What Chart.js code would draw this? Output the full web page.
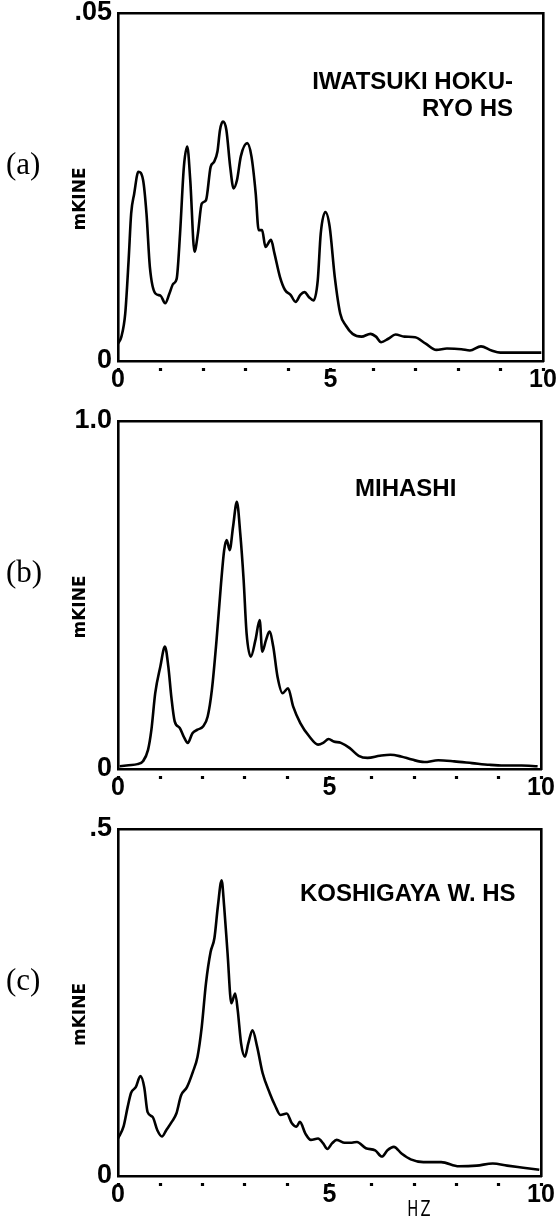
<!DOCTYPE html>
<html lang="en">
<head>
<meta charset="UTF-8">
<title>Fourier spectra</title>
<script src="https://cdn.jsdelivr.net/npm/chart.js@4.4.0/dist/chart.umd.min.js"></script>
<style>
  body { margin: 0; background: #fff; }
  canvas { position: absolute; left: 0; }
</style>
</head>
<body>
<canvas id="pa" width="557" height="408" style="top:0px"></canvas>
<canvas id="pb" width="557" height="408" style="top:408px"></canvas>
<canvas id="pc" width="557" height="409" style="top:816px"></canvas>
<script>
// frequency (Hz) and amplitude (kine)
const freqA = [0, 0.08, 0.17, 0.25, 0.31, 0.38, 0.48, 0.59, 0.67, 0.75, 0.88, 1.0, 1.11, 1.21, 1.3, 1.38, 1.46, 1.55, 1.63, 1.7, 1.8, 1.88, 1.97, 2.07, 2.18, 2.26, 2.34, 2.4, 2.47, 2.55, 2.64, 2.72, 2.8, 2.89, 3.04, 3.14, 3.24, 3.31, 3.39, 3.47, 3.6, 3.68, 3.81, 3.93, 4.06, 4.18, 4.29, 4.39, 4.49, 4.6, 4.7, 4.77, 4.88, 4.98, 5.1, 5.23, 5.36, 5.52, 5.73, 5.94, 6.07, 6.19, 6.36, 6.53, 6.74, 6.99, 7.24, 7.49, 7.74, 8.08, 8.28, 8.54, 8.79, 9.0, 9.41, 9.96];
const ampA = [0.0025, 0.0035, 0.0068, 0.0145, 0.0212, 0.024, 0.0272, 0.026, 0.0212, 0.0135, 0.0097, 0.0094, 0.0083, 0.0097, 0.0111, 0.0118, 0.0183, 0.0279, 0.0308, 0.026, 0.0157, 0.0183, 0.0226, 0.0231, 0.0279, 0.0286, 0.0301, 0.0332, 0.0344, 0.0332, 0.0279, 0.0248, 0.026, 0.0294, 0.0313, 0.0294, 0.0241, 0.0188, 0.0188, 0.0164, 0.0174, 0.0155, 0.0121, 0.0102, 0.0095, 0.0085, 0.0095, 0.0099, 0.0092, 0.0087, 0.0116, 0.0183, 0.0214, 0.0193, 0.0121, 0.0068, 0.0051, 0.0039, 0.0035, 0.0039, 0.0035, 0.0027, 0.0032, 0.0038, 0.0035, 0.0034, 0.0025, 0.0016, 0.0018, 0.0017, 0.0015, 0.0021, 0.0015, 0.0012, 0.0012, 0.0012];

const freqB = [0.04, 0.25, 0.46, 0.59, 0.71, 0.79, 0.88, 1.0, 1.11, 1.19, 1.26, 1.34, 1.46, 1.55, 1.65, 1.76, 1.88, 2.01, 2.12, 2.22, 2.33, 2.43, 2.51, 2.57, 2.64, 2.72, 2.81, 2.89, 2.97, 3.04, 3.14, 3.25, 3.35, 3.41, 3.5, 3.58, 3.67, 3.77, 3.89, 4.02, 4.14, 4.31, 4.52, 4.73, 4.85, 4.98, 5.1, 5.27, 5.48, 5.69, 5.9, 6.19, 6.44, 6.69, 6.95, 7.24, 7.57, 7.95, 8.37, 8.79, 9.12, 9.54, 9.92];
const ampB = [0.008, 0.011, 0.014, 0.022, 0.055, 0.113, 0.218, 0.294, 0.352, 0.294, 0.208, 0.137, 0.118, 0.094, 0.075, 0.103, 0.113, 0.122, 0.151, 0.228, 0.371, 0.524, 0.629, 0.658, 0.629, 0.696, 0.768, 0.677, 0.543, 0.39, 0.323, 0.371, 0.428, 0.337, 0.371, 0.395, 0.352, 0.266, 0.218, 0.232, 0.18, 0.132, 0.094, 0.07, 0.075, 0.086, 0.079, 0.075, 0.06, 0.038, 0.032, 0.038, 0.041, 0.036, 0.027, 0.02, 0.025, 0.022, 0.017, 0.012, 0.01, 0.01, 0.008];

const freqC = [0, 0.13, 0.23, 0.31, 0.42, 0.53, 0.62, 0.7, 0.82, 0.93, 1.04, 1.14, 1.27, 1.38, 1.49, 1.63, 1.77, 1.88, 1.98, 2.08, 2.19, 2.28, 2.36, 2.45, 2.51, 2.59, 2.68, 2.77, 2.83, 2.91, 3.0, 3.08, 3.18, 3.29, 3.42, 3.59, 3.71, 3.84, 3.99, 4.11, 4.22, 4.3, 4.43, 4.56, 4.73, 4.85, 4.95, 5.06, 5.17, 5.36, 5.53, 5.65, 5.86, 6.08, 6.24, 6.37, 6.52, 6.71, 6.92, 7.22, 7.64, 8.06, 8.48, 8.86, 9.2, 9.58, 9.96];
const ampC = [0.054, 0.071, 0.1, 0.12, 0.128, 0.144, 0.128, 0.092, 0.085, 0.066, 0.057, 0.066, 0.078, 0.09, 0.116, 0.128, 0.15, 0.172, 0.215, 0.278, 0.323, 0.343, 0.388, 0.426, 0.388, 0.321, 0.249, 0.263, 0.239, 0.191, 0.172, 0.191, 0.21, 0.186, 0.148, 0.119, 0.102, 0.088, 0.09, 0.076, 0.071, 0.078, 0.061, 0.052, 0.054, 0.047, 0.039, 0.047, 0.052, 0.048, 0.048, 0.049, 0.04, 0.037, 0.028, 0.037, 0.042, 0.032, 0.024, 0.02, 0.02, 0.014, 0.015, 0.018, 0.015, 0.012, 0.009];

const xTickLabels = ['0', '5', '10'];
const yTickLabelsA = ['0', '.05'];
const yTickLabelsB = ['0', '1.0'];
const yTickLabelsC = ['0', '.5'];
const yMaxA = 0.05, yMaxB = 1.0, yMaxC = 0.5;

const xFont = { family: 'Liberation Sans', weight: 'bold', size: 25 };
const yFont = { family: 'Liberation Sans', weight: 'bold', size: 27 };

// panel letter, unit label and station name
const panelText = {
  id: 'panelText',
  afterDraw(chart, args, o) {
    const { ctx, chartArea: a } = chart;
    const mid = (a.top + a.bottom) / 2;
    ctx.save();
    ctx.fillStyle = '#000';
    ctx.textBaseline = 'middle';
    ctx.textAlign = 'left';
    ctx.font = '31px "Liberation Serif"';
    ctx.fillText(o.letter, 6, mid - 21);

    ctx.save();
    ctx.translate(81, mid + 12);
    ctx.rotate(-Math.PI / 2);
    ctx.textAlign = 'center';
    ctx.font = 'bold 17px "DejaVu Sans"';
    ctx.fillText('mKINE', 0, 0);
    ctx.restore();

    ctx.textBaseline = 'alphabetic';
    ctx.textAlign = o.align;
    ctx.font = 'bold 24px "Liberation Sans"';
    o.station.forEach((s, i) => ctx.fillText(s, o.sx, o.sy + i * 27));

    if (o.unit) {
      ctx.textAlign = 'center';
      ctx.font = '21px "DejaVu Sans"';
      ctx.letterSpacing = '3px';
      ctx.save();
      ctx.translate(420, chart.height - 9);
      ctx.scale(0.7, 1);
      ctx.fillText(o.unit, 0, 0);
      ctx.restore();
    }
    ctx.restore();
  }
};

function makePanel(id, freq, amp, yMax, yLabels, bottomH, rightW, text) {
  const frame = { display: true, color: '#000', width: 2.6 };
  new Chart(document.getElementById(id), {
    type: 'line',
    data: {
      datasets: [{
        data: freq.map((f, i) => ({ x: f, y: amp[i] })),
        borderColor: '#000',
        borderWidth: 2.6,
        pointRadius: 0,
        cubicInterpolationMode: 'monotone',
        fill: false
      }]
    },
    options: {
      responsive: false,
      animation: false,
      devicePixelRatio: 1,
      layout: { padding: 0 },
      plugins: { legend: { display: false }, tooltip: { enabled: false }, panelText: text },
      scales: {
        x: {
          type: 'linear', position: 'bottom', min: 0, max: 10,
          afterFit: s => { s.height = bottomH; s.paddingLeft = 0; s.paddingRight = 0; },
          ticks: {
            stepSize: 1, autoSkip: false, maxRotation: 0, padding: -6, color: '#000', font: xFont,
            callback: v => xTickLabels.includes(String(v)) ? String(v) : ''
          },
          grid: { display: true, drawOnChartArea: false, tickLength: 10, tickColor: '#000', tickWidth: 3.2, tickBorderDash: [0, 5.5, 3.2, 40] },
          border: frame
        },
        y: {
          type: 'linear', position: 'left', min: 0, max: yMax,
          afterBuildTicks: s => { s.ticks = [{ value: 0 }, { value: yMax }]; },
          afterFit: s => { s.width = 118; s.paddingTop = 0; s.paddingBottom = 0; },
          ticks: { padding: 6, color: '#000', font: yFont, callback: (v, i) => yLabels[i] },
          grid: { display: false, drawTicks: false },
          border: frame
        },
        xTop: {
          type: 'linear', position: 'top', min: 0, max: 10,
          afterFit: s => { s.height = 13; },
          ticks: { display: false }, grid: { display: false, drawTicks: false }, border: frame
        },
        yRight: {
          type: 'linear', position: 'right', min: 0, max: 1,
          afterFit: s => { s.width = rightW; },
          ticks: { display: false }, grid: { display: false, drawTicks: false }, border: frame
        }
      }
    },
    plugins: [panelText]
  });
}

makePanel('pa', freqA, ampA, yMaxA, yTickLabelsA, 47, 14,
  { letter: '(a)', station: ['IWATSUKI HOKU-', 'RYO HS'], align: 'right', sx: 513, sy: 89 });
makePanel('pb', freqB, ampB, yMaxB, yTickLabelsB, 47, 16,
  { letter: '(b)', station: ['MIHASHI'], align: 'left', sx: 355, sy: 88 });
makePanel('pc', freqC, ampC, yMaxC, yTickLabelsC, 49, 16,
  { letter: '(c)', station: ['KOSHIGAYA W. HS'], align: 'left', sx: 300, sy: 85, unit: 'HZ' });
</script>
</body>
</html>
